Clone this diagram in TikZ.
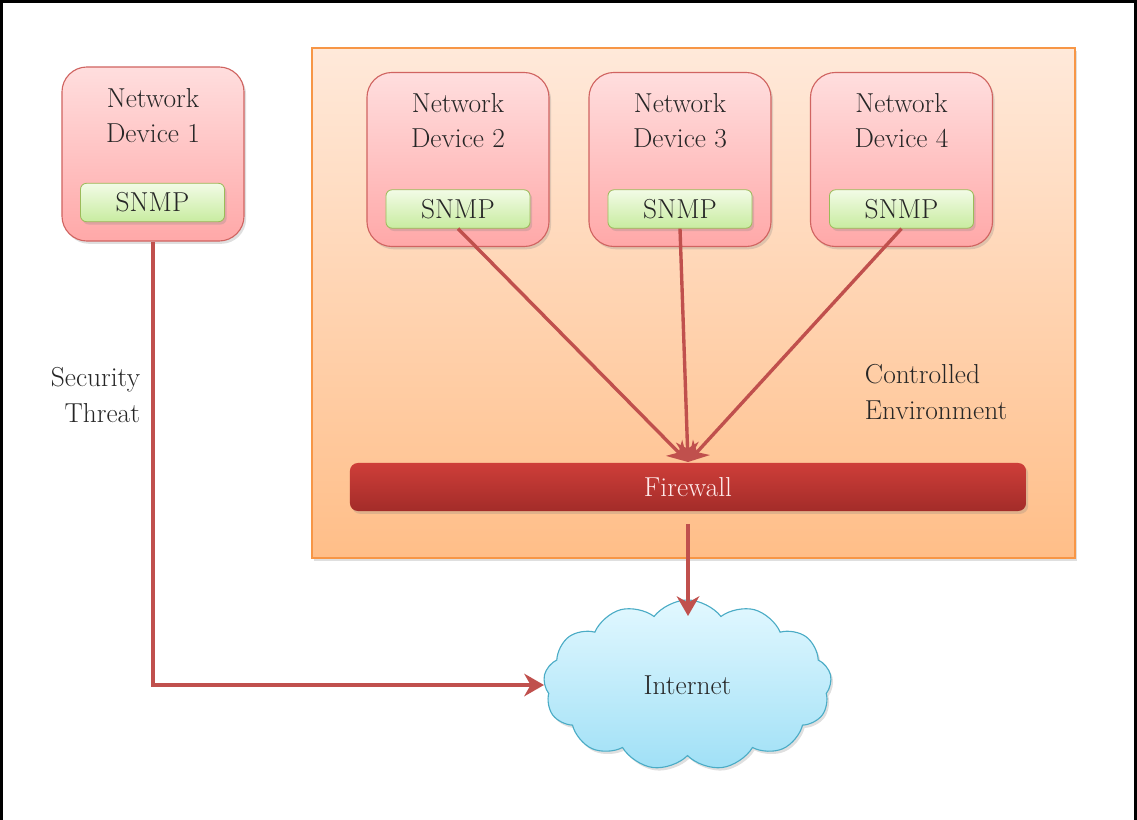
\documentclass[tikz,border=0pt]{standalone}
\usetikzlibrary{arrows.meta,shapes.symbols,shadows}

\definecolor{arrowred}{RGB}{192,80,77}
\definecolor{devtop}{RGB}{255,222,222}
\definecolor{devbot}{RGB}{255,168,168}
\definecolor{devline}{RGB}{208,100,97}
\definecolor{snmptop}{RGB}{242,251,230}
\definecolor{snmpbot}{RGB}{200,236,160}
\definecolor{snmpline}{RGB}{155,187,89}
\definecolor{envtop}{RGB}{255,233,218}
\definecolor{envbot}{RGB}{255,190,136}
\definecolor{envline}{RGB}{247,150,70}
\definecolor{fwtop}{RGB}{206,62,57}
\definecolor{fwbot}{RGB}{163,44,41}
\definecolor{cloudtop}{RGB}{226,248,255}
\definecolor{cloudbot}{RGB}{160,224,246}
\definecolor{cloudline}{RGB}{75,172,198}

\begin{document}
\begin{tikzpicture}[x=0.025cm, y=-0.025cm,
        font=\fontsize{19.5}{25}\selectfont,
        soft/.style={drop shadow={shadow xshift=1.5pt, shadow yshift=-2pt, opacity=0.25}},
        envbox/.style={draw=envline, line width=1.2pt, top color=envtop, bottom color=envbot,
            minimum width=19.075cm, minimum height=12.75cm, soft},
        device/.style={draw=devline, line width=0.8pt, rounded corners=0.625cm,
            top color=devtop, bottom color=devbot, minimum width=4.55cm, minimum height=4.35cm, soft},
        devtitle/.style={align=center, text=black!85},
        snmpbox/.style={draw=snmpline, line width=0.6pt, rounded corners=0.15cm,
            top color=snmptop, bottom color=snmpbot, minimum width=3.6cm, minimum height=0.96cm,
            inner sep=0pt, text=black!85, soft},
        firewall/.style={rounded corners=0.2cm, top color=fwtop, bottom color=fwbot,
            minimum width=16.9cm, minimum height=1.2cm, text=white!92!red, soft},
        internet/.style={cloud, cloud puffs=13, cloud puff arc=105, cloud ignores aspect,
            draw=cloudline, line width=0.8pt, top color=cloudtop, bottom color=cloudbot,
            minimum width=7.2cm, minimum height=4.25cm, text=black!85, soft},
        link/.style={draw=arrowred, line width=2.4pt,
            -{Stealth[length=14pt, width=16pt, inset=4.5pt]}}]

            \useasboundingbox (0,0) rectangle (1137,820);
            \draw[line width=1.7pt] (1.5,820) -- (1.5,1.5) -- (1135.5,1.5) -- (1135.5,820);

            \node[envbox] (env) at (693.5,303) {};

            \node[device] (dev1) at (153,154) {};
            \node[devtitle] (dev1t) at (153,116) {Network\\Device 1};
            \node[snmpbox] (snmp1) at (152.5,202.5) {SNMP};

            \node[device] (dev2) at (458,159.5) {};
            \node[devtitle] (dev2t) at (458,121) {Network\\Device 2};
            \node[snmpbox] (snmp2) at (458,209) {SNMP};

            \node[device] (dev3) at (680,159.5) {};
            \node[devtitle] (dev3t) at (680,121) {Network\\Device 3};
            \node[snmpbox] (snmp3) at (680,209) {SNMP};

            \node[device] (dev4) at (901.5,159.5) {};
            \node[devtitle] (dev4t) at (901.5,121) {Network\\Device 4};
            \node[snmpbox] (snmp4) at (901.5,209) {SNMP};

            \node[firewall] (fw) at (688,487) {Firewall};
            \node[internet] (net) at (687.5,685) {Internet};

            \node[align=right, anchor=east, text=black!85] (threat) at (145,395) {Security\\Threat};
            \node[align=left, anchor=west, text=black!85] (ctrl) at (860,392) {Controlled\\Environment};

            \coordinate (fwin) at (688,462);
            \coordinate (netin) at (688,616);

            \draw[link] (dev1.south) |- (net.west);
            \draw[link] (snmp2.south) -- (fwin);
            \draw[link] (snmp3.south) -- (fwin);
            \draw[link] (snmp4.south) -- (fwin);
            \draw[link, shorten <=9] (fw.south) -- (netin);

        \end{tikzpicture}
\end{document}
